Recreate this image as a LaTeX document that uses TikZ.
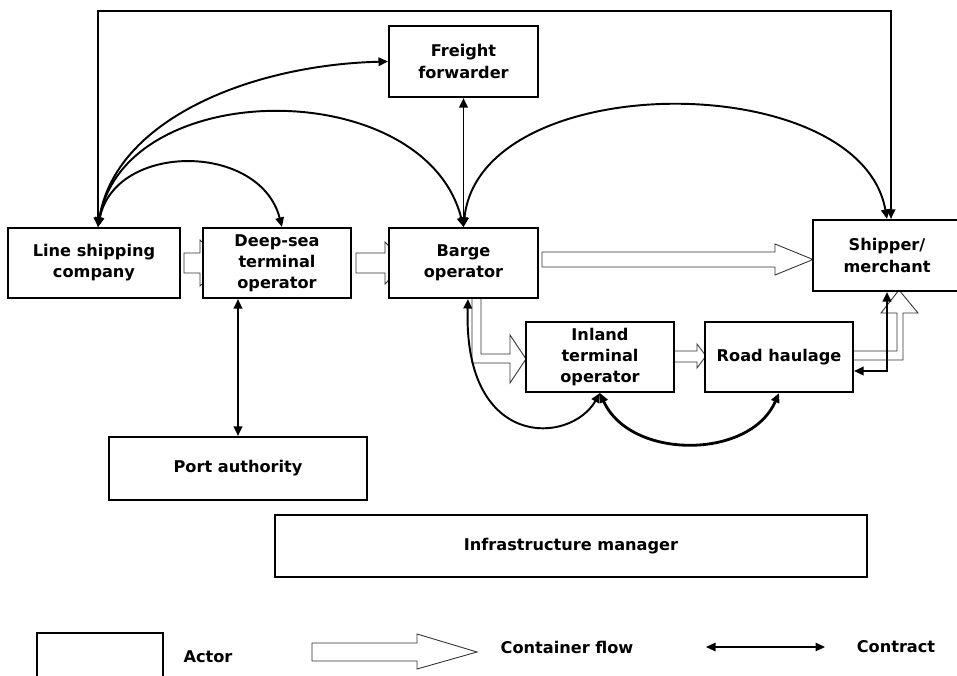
\documentclass[tikz,border=0pt]{standalone}
\usepackage{fontspec}
\setmainfont{DejaVu Sans}
\usetikzlibrary{arrows.meta,backgrounds}

\tikzset{
  actor/.style={draw, line width=1.2pt, fill=white, align=center, inner sep=0pt,
    font=\bfseries\fontsize{9.2}{12}\selectfont},
  legtext/.style={font=\bfseries\fontsize{9.2}{12}\selectfont},
  contract/.style={line width=1.1pt,
    {Triangle[length=1.9mm,width=1.7mm]}-{Triangle[length=1.9mm,width=1.7mm]}},
  flow/.style={draw=black!80, line width=0.5pt, fill=white},
}

\begin{document}
\begin{tikzpicture}[x=0.02cm,y=-0.02cm]
  \useasboundingbox (0,0) rectangle (957,676);

  % actors
  \node[actor, minimum width=3.44cm, minimum height=1.4cm] (lsc) at (94,263) {Line shipping\\company};
  \node[actor, minimum width=2.96cm, minimum height=1.4cm] (dst) at (277,263) {Deep-sea\\terminal\\operator};
  \node[actor, minimum width=2.98cm, minimum height=1.42cm] (ff) at (463.5,61.5) {Freight\\forwarder};
  \node[actor, minimum width=2.98cm, minimum height=1.4cm] (barge) at (463.5,263) {Barge\\operator};
  \node[actor, minimum width=2.96cm, minimum height=1.42cm] (shipper) at (887,255.5) {Shipper/\\merchant};
  \node[actor, minimum width=2.96cm, minimum height=1.4cm] (inland) at (600,357) {Inland\\terminal\\operator};
  \node[actor, minimum width=2.96cm, minimum height=1.4cm] (road) at (779,357) {Road haulage};
  \node[actor, minimum width=5.16cm, minimum height=1.26cm] (port) at (238,468.5) {Port authority};
  \node[actor, minimum width=11.84cm, minimum height=1.24cm] (infra) at (571,546) {Infrastructure manager};

  \coordinate (lscT) at ([xshift=0.08cm]lsc.north);
  \coordinate (shipT) at ([xshift=0.08cm]shipper.north);
  \coordinate (topline) at (0,11);

  % container flows
  \begin{scope}[on background layer]
    \draw[flow] (184,253) -- (200,253) -- (200,240) -- (225,263) -- (200,286) -- (200,273) -- (184,273) -- cycle;
    \draw[flow] (356,253) -- (385,253) -- (385,242) -- (405,263) -- (385,284) -- (385,273) -- (356,273) -- cycle;
    \draw[flow] (542,252) -- (775,252) -- (775,244) -- (813,259.5) -- (775,275) -- (775,267) -- (542,267) -- cycle;
    \draw[flow] (472,295) -- (472,363) -- (510,363) -- (510,383) -- (526,359) -- (510,335) -- (510,354) -- (481,354) -- (481,295) -- cycle;
    \draw[flow] (670,351) -- (697,351) -- (697,344) -- (706,356) -- (697,368) -- (697,362) -- (670,362) -- cycle;
    \draw[flow] (850,351) -- (897,351) -- (897,313) -- (881,313) -- (899,290) -- (918,313) -- (903,313) -- (903,360) -- (850,360) -- cycle;
  \end{scope}

  % contracts
  \draw[contract] (shipT) -- (shipT |- topline) -| (lscT);
  \draw[contract] (lscT) .. controls (115,120) and (250,65) .. (ff.west);
  \draw[contract] (lscT) .. controls (125,75) and (425,75) .. (barge.north);
  \draw[contract] (lscT) .. controls (115,142) and (260,142) .. ([xshift=0.1cm]dst.north);
  \draw[contract] (barge.north) -- (ff.south);
  \draw[contract] (barge.north) .. controls (480,67) and (860,67) .. (shipper.north);
  \draw[contract] (port.north |- dst.south) -- (port.north);
  \draw[contract] ([xshift=0.09cm]barge.south) .. controls (463,450) and (570,445) .. (inland.south);
  \draw[contract, line width=1.6pt] (inland.south) .. controls (630,460) and (750,460) .. (road.south);
  \draw[contract] ([yshift=-0.28cm]road.east) -| (shipper.south);

  % legend
  \node[actor, minimum width=2.52cm, minimum height=1.2cm, anchor=north west] (legactor) at (36,632) {};
  \node[legtext] (legactorlabel) at (208,657) {Actor};
  \draw[flow] (312,643) -- (417,643) -- (417,634) -- (477,652) -- (417,669) -- (417,661) -- (312,661) -- cycle;
  \node[legtext] (legflow) at (567,647) {Container flow};
  \coordinate (legcA) at (706,647);
  \coordinate (legcB) at (825,647);
  \draw[contract, line width=0.7pt] (legcA) -- (legcB);
  \node[legtext] (legcontract) at (896,647) {Contract};
\end{tikzpicture}
\end{document}
